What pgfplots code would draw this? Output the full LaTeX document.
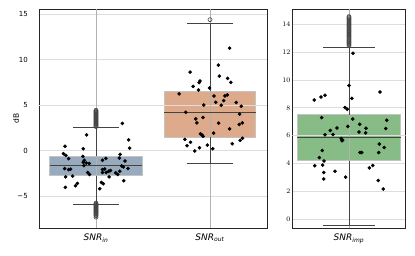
\documentclass[border=0pt]{standalone}
\usepackage{fontspec}
\setmainfont{DejaVu Sans}
\usepackage{pgfplots}
\pgfplotsset{compat=1.18}
\usepgfplotslibrary{statistics}
\definecolor{bxblue}{RGB}{151,170,190}
\definecolor{bxorange}{RGB}{222,170,140}
\definecolor{bxgreen}{RGB}{136,188,134}
\definecolor{whisk}{RGB}{68,68,68}
\definecolor{gridc}{RGB}{222,222,222}
\definecolor{vgrid}{RGB}{178,178,178}
\definecolor{edgec}{RGB}{196,196,196}
\pgfplotsset{
  mystyle/.style={
    scale only axis, height=218.7pt,
    axis line style={draw=black!85, line width=0.8pt},
    major tick length=0pt,
    ymajorgrids, xmajorgrids,
    y grid style={gridc, line width=0.9pt},
    x grid style={vgrid, line width=0.8pt},
    yticklabel style={font=\fontsize{7}{8}\selectfont, inner sep=0pt, anchor=east},
    xticklabel style={font=\fontsize{9}{10}\selectfont, inner sep=0pt, anchor=north, yshift=-6pt},
    xtick={0,1},
    boxplot/draw direction=y,
  },
  boxonly/.style={draw=edgec, line width=0.8pt,
    boxplot/every whisker/.style={draw=none},
    boxplot/every median/.style={draw=none}},
  whiskonly/.style={draw=whisk, line width=0.9pt,
    boxplot/every box/.style={draw=none, fill=none}},
  regrid/.style={vgrid, line width=0.8pt},
  regridh/.style={gridc, line width=0.9pt},
  strip/.style={only marks, mark=*, mark size=1.6pt, black},
  flier/.style={only marks, mark=o, mark size=2pt, mark options={draw=whisk, line width=0.6pt}},
}
\begin{document}
\begin{tikzpicture}
\path[use as bounding box] (-39pt,-28pt) rectangle (376pt,228pt);
\begin{axis}[mystyle, at={(0pt,0pt)}, anchor=south west, width=228pt,
  xmin=-0.5, xmax=1.5, ymin=-8.49, ymax=15.54,
  ytick={-5,0,5,10,15}, yticklabels={−5,0,5,10,15},
  yticklabel style={xshift=-11pt},
  xticklabels={\textit{SNR}\textsubscript{\textit{in}}, \textit{SNR}\textsubscript{\textit{out}}},
  ylabel={dB}, ylabel style={font=\fontsize{7.5}{8}\selectfont, at={(axis description cs:-0.1009,0.5)}, anchor=center},
]
% boxes
\addplot[boxonly, fill=bxblue, boxplot prepared={lower whisker=-5.95, lower quartile=-2.76, median=-1.67, upper quartile=-0.62, upper whisker=2.53, draw position=0, box extend=0.81, whisker extend=0.406}] coordinates {};
\addplot[boxonly, fill=bxorange, boxplot prepared={lower whisker=-1.42, lower quartile=1.47, median=4.19, upper quartile=6.56, upper whisker=13.94, draw position=1, box extend=0.80, whisker extend=0.406}] coordinates {};
% grid lines that run over the boxes
\addplot[regridh] coordinates {(-0.5,5) (1.5,5)};
\addplot[regrid] coordinates {(0,-8.49) (0,15.54)};
\addplot[regrid] coordinates {(1,-8.49) (1,15.54)};
\addplot[whiskonly, boxplot prepared={lower whisker=-5.95, lower quartile=-2.76, median=-1.67, upper quartile=-0.62, upper whisker=2.53, draw position=0, box extend=0.81, whisker extend=0.406}] coordinates {};
\addplot[whiskonly, boxplot prepared={lower whisker=-1.42, lower quartile=1.47, median=4.19, upper quartile=6.56, upper whisker=13.94, draw position=1, box extend=0.80, whisker extend=0.406}] coordinates {};
% outliers
\addplot[flier] coordinates {
(0,2.65)(0,2.72)(0,2.8)(0,2.88)(0,2.95)(0,3.02)(0,3.1)(0,3.18)(0,3.25)(0,3.32)(0,3.4)(0,3.48)(0,3.55)(0,3.62)(0,3.7)(0,3.78)(0,3.85)(0,3.92)(0,4.0)(0,4.08)(0,4.15)(0,4.22)(0,4.3)(0,4.38)(0,4.45)
(0,-5.75)(0,-5.82)(0,-5.9)(0,-5.98)(0,-6.05)(0,-6.12)(0,-6.2)(0,-6.28)(0,-6.35)(0,-6.42)(0,-6.5)(0,-6.58)(0,-6.65)(0,-6.72)(0,-6.8)(0,-6.88)(0,-6.95)(0,-7.05)(0,-7.15)(0,-7.3)
(1,14.4)};
% strip points
\addplot[strip] coordinates {
(0.231,3.0)(-0.083,1.74)(0.286,1.2)(0.295,0.28)(-0.272,0.5)(-0.112,0.22)(-0.286,-0.33)(-0.264,-0.51)(-0.24,-0.87)(-0.115,-0.62)
(-0.103,-1.05)(-0.112,-1.27)(-0.086,-1.35)(-0.059,-1.41)(-0.106,-1.63)(0.057,-1.05)(0.086,-0.84)(0.211,-0.4)(0.205,-0.8)(0.255,-1.13)
(-0.275,-1.96)(-0.24,-2.07)(-0.223,-2.03)(-0.072,-2.39)(-0.057,-2.61)(0.057,-2.07)(0.077,-2.0)(0.057,-2.39)(0.089,-2.39)(0.112,-2.25)
(0.127,-2.17)(0.173,-2.43)(0.19,-2.61)(0.225,-1.67)(0.24,-1.78)(0.281,-1.96)(0.208,-2.25)(-0.266,-2.87)(-0.205,-2.79)(0.115,-2.87)
(0.243,-3.3)(-0.164,-3.59)(-0.179,-3.85)(0.048,-3.48)(0.063,-3.63)(0.033,-4.17)(-0.269,-4.02)
};
\addplot[strip] coordinates {
(1.172,11.27)(1.073,9.41)(0.825,8.64)(1.082,8.2)(1.154,7.95)(1.183,7.52)(0.913,7.66)(0.904,7.48)(0.852,7.08)(0.899,6.67)
(0.995,6.89)(0.729,6.24)(1.035,6.02)(1.131,6.02)(1.152,6.13)(1.12,5.51)(1.05,5.33)(1.099,5.0)(1.23,5.3)(1.274,4.89)
(0.945,5.03)(0.788,4.23)(1.259,4.02)(0.875,3.5)(0.884,3.06)(0.939,3.65)(1.076,3.03)(1.172,2.41)(1.257,2.89)(1.283,3.06)
(1.032,1.94)(0.916,1.86)(0.93,1.72)(0.939,1.58)(0.779,1.25)(0.829,0.92)(0.799,0.55)(0.908,0.33)(0.866,-0.03)(0.977,0.62)
(1.024,0.22)(1.195,0.77)(1.265,1.14)(1.285,1.36)
};
\end{axis}
\begin{axis}[mystyle, at={(253.3pt,0pt)}, anchor=south west, width=113.4pt,
  xmin=-0.5, xmax=0.5, ymin=-0.62, ymax=15.07, xtick={0},
  ytick={0,2,4,6,8,10,12,14},
  yticklabel style={xshift=-1.7pt},
  xticklabels={\textit{SNR}\textsubscript{\textit{imp}}},
]
\addplot[boxonly, fill=bxgreen, boxplot prepared={lower whisker=-0.43, lower quartile=4.21, median=5.9, upper quartile=7.52, upper whisker=12.36, draw position=0, box extend=0.912, whisker extend=0.455}] coordinates {};
\addplot[regridh] coordinates {(-0.5,6) (0.5,6)};
\addplot[regrid] coordinates {(0,-0.62) (0,15.07)};
\addplot[whiskonly, boxplot prepared={lower whisker=-0.43, lower quartile=4.21, median=5.9, upper quartile=7.52, upper whisker=12.36, draw position=0, box extend=0.912, whisker extend=0.455}] coordinates {};
\addplot[flier] coordinates {
(0,12.45)(0,12.53)(0,12.6)(0,12.68)(0,12.75)(0,12.83)(0,12.9)(0,12.98)(0,13.05)(0,13.13)(0,13.2)(0,13.28)(0,13.35)(0,13.43)(0,13.5)(0,13.58)(0,13.65)(0,13.73)(0,13.8)(0,13.88)(0,13.95)(0,14.03)(0,14.1)(0,14.18)(0,14.25)(0,14.33)(0,14.4)(0,14.48)(0,14.55)
};
\addplot[strip] coordinates {
(0.035,11.92)(0.0,9.6)(0.273,9.14)(-0.306,8.56)(-0.247,8.78)(-0.212,8.9)(0.026,8.68)(-0.035,8.02)(-0.015,7.9)(-0.241,7.3)
(0.033,7.2)(0.332,7.11)(0.094,6.82)(0.15,6.53)(0.147,6.2)(0.088,6.27)(0.324,6.51)(-0.106,6.56)(-0.165,6.38)(-0.141,6.09)
(-0.212,6.07)(-0.011,6.67)(-0.068,5.8)(-0.056,5.69)(-0.062,5.64)(0.267,5.4)(0.311,5.15)(-0.235,4.94)(-0.262,4.43)(-0.22,4.19)
(0.097,4.79)(0.112,4.79)(0.262,4.79)(-0.302,3.84)(-0.232,3.89)(-0.223,3.36)(-0.123,3.45)(-0.223,2.9)(-0.029,3.03)(0.179,3.69)
(0.209,3.86)(0.258,2.79)(0.302,2.18)
};
\end{axis}
\end{tikzpicture}
\end{document}
